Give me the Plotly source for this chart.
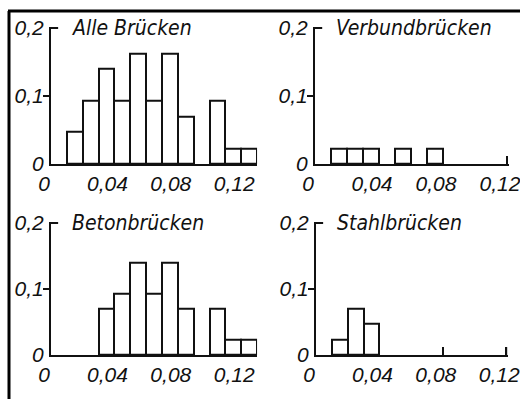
import plotly.graph_objects as go

# ---- data (relative frequencies per 0.01 bin; bin left edges) ----
bins_all = [0.01, 0.02, 0.03, 0.04, 0.05, 0.06, 0.07, 0.08, 0.10, 0.11, 0.12]
vals_all = [0.047, 0.093, 0.140, 0.093, 0.163, 0.093, 0.163, 0.070, 0.093, 0.023, 0.023]

bins_verbund = [0.01, 0.02, 0.03, 0.05, 0.07]
vals_verbund = [0.023, 0.023, 0.023, 0.023, 0.023]

bins_beton = [0.03, 0.04, 0.05, 0.06, 0.07, 0.08, 0.10, 0.11, 0.12]
vals_beton = [0.070, 0.093, 0.140, 0.093, 0.140, 0.070, 0.070, 0.023, 0.023]

bins_stahl = [0.01, 0.02, 0.03]
vals_stahl = [0.023, 0.070, 0.047]

titles = ["Alle Brücken", "Verbundbrücken", "Betonbrücken", "Stahlbrücken"]
x_tickvals = [0, 0.04, 0.08, 0.12]
x_ticktext = ["0", "0,04", "0,08", "0,12"]
y_tickvals = [0, 0.1, 0.2]
y_ticktext = ["0", "0,1", "0,2"]
bin_width = 0.01

W, H = 520, 399
TICK_FONT = dict(family="Liberation Sans Narrow, Liberation Sans", size=21, color="#111", style="italic")
TITLE_FONT = dict(family="DejaVu Sans Condensed, DejaVu Sans", size=21, color="#111", style="italic")

# panel geometry in pixels: (x0 px, x px per 0.01, xmax, y0 px, y px per 0.1)
panels = [
    dict(bins=bins_all, vals=vals_all, x0=51, xs=15.85, xmax=0.13, y0=164, ys=68),
    dict(bins=bins_verbund, vals=vals_verbund, x0=315, xs=16.0, xmax=0.1212, y0=164, ys=68),
    dict(bins=bins_beton, vals=vals_beton, x0=51, xs=15.85, xmax=0.13, y0=355, ys=66),
    dict(bins=bins_stahl, vals=vals_stahl, x0=316, xs=15.85, xmax=0.1212, y0=355, ys=66),
]
YMAX = 0.202
TICKLEN = 8

fig = go.Figure()
layout = dict(
    template="none",
    width=W, height=H, margin=dict(l=0, r=0, t=0, b=0, autoexpand=False),
    paper_bgcolor="white", plot_bgcolor="white", showlegend=False,
    bargap=0,
)
shapes = []
annotations = []
for i, p in enumerate(panels, start=1):
    xa = "x" if i == 1 else f"x{i}"
    ya = "y" if i == 1 else f"y{i}"
    fig.add_trace(go.Bar(
        x=p["bins"], y=p["vals"], width=bin_width, offset=0,
        marker=dict(color="white", line=dict(color="#111", width=2)),
        xaxis=xa, yaxis=ya, hoverinfo="skip",
    ))
    dx0 = p["x0"] / W
    dx1 = (p["x0"] + p["xs"] * p["xmax"] / 0.01) / W
    dy0 = (H - p["y0"]) / H
    dy1 = (H - (p["y0"] - p["ys"] * YMAX / 0.1)) / H
    layout[f"xaxis{'' if i == 1 else i}"] = dict(
        domain=[dx0, dx1], range=[0, p["xmax"]], anchor=ya, automargin=False,
        showgrid=False, zeroline=False, showline=True, linecolor="#111", linewidth=2,
        tickmode="array", tickvals=x_tickvals, ticktext=x_ticktext,
        ticks="inside", ticklen=TICKLEN, tickwidth=2, tickcolor="#111",
        tickfont=TICK_FONT, ticklabelstandoff=0, ticklabelshift=-7,
        ticklabeloverflow="allow",
    )
    layout[f"yaxis{'' if i == 1 else i}"] = dict(
        domain=[dy0, dy1], range=[0, YMAX], anchor=xa, automargin=False,
        showgrid=False, zeroline=False, showline=True, linecolor="#111", linewidth=2,
        tickmode="array", tickvals=y_tickvals, ticktext=y_ticktext,
        ticks="", tickfont=TICK_FONT, ticklabelstandoff=1, ticklabeloverflow="allow",
        minor=dict(tickmode="array", tickvals=[0.1], ticks="outside", ticklen=6,
                   tickwidth=2, tickcolor="#111"),
    )
    # bracket at 0.2
    shapes.append(dict(type="line", xref=xa, yref=ya, x0=0, x1=0.0045, y0=0.2, y1=0.2,
                       line=dict(color="#111", width=2)))
    # end tick at the last x tick value (plotly drops the tick at the axis end)
    if p["xmax"] < 0.125:
        shapes.append(dict(type="line", xref=xa, yref=ya,
                           x0=x_tickvals[-1], x1=x_tickvals[-1],
                           y0=0, y1=TICKLEN / p["ys"] * 0.1,
                           line=dict(color="#111", width=2)))
    annotations.append(dict(text=titles[i - 1], xref=xa, yref=ya, x=0.012, y=0.2,
                            xanchor="left", yanchor="middle", showarrow=False,
                            font=TITLE_FONT))

# outer frame (top and left edges)
shapes.append(dict(type="line", xref="paper", yref="paper", x0=8 / W, x1=1, y0=1 - 11 / H, y1=1 - 11 / H,
                   line=dict(color="black", width=3)))
shapes.append(dict(type="line", xref="paper", yref="paper", x0=9 / W, x1=9 / W, y0=0, y1=1 - 11 / H,
                   line=dict(color="black", width=3)))
layout["shapes"] = shapes
layout["annotations"] = annotations
fig.update_layout(**layout)
fig.write_html("out.html")
